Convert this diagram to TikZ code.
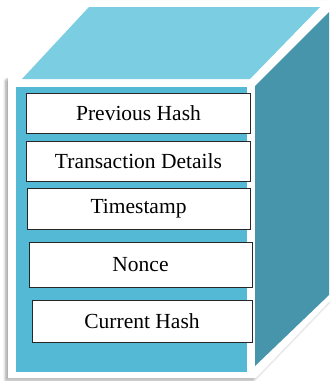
\documentclass[tikz,border=0pt]{standalone}
\usepackage{fontspec}
\setmainfont{Liberation Serif}
\usetikzlibrary{shadows.blur}
\definecolor{topface}{RGB}{123,205,225}
\definecolor{frontface}{RGB}{84,185,213}
\definecolor{sideface}{RGB}{70,149,170}
\tikzset{
  field/.style={draw=black!85, line width=1pt, fill=white, inner sep=0pt,
    font=\fontsize{21.5}{24}\selectfont},
}
\begin{document}
\begin{tikzpicture}[x=1pt,y=-1pt]
\useasboundingbox (0,0) rectangle (331,381);
% white cube silhouette with a soft shadow
\fill[white, blur shadow={shadow xshift=-2.5pt, shadow yshift=-2pt,
      shadow blur radius=2.5pt, shadow blur steps=6, shadow opacity=35}]
  (8,378) -- (8,79) -- (82,1) -- (331,1) -- (331,300) -- (256,378) -- cycle;
% keep the slanted top-left edge free of shadow
\fill[white] (-1,-1) -- (-1,75) -- (10,79) -- (84,1) -- (84,-1) -- cycle;
% the three faces
\fill[topface] (22,79) -- (89,7) -- (320,7) -- (250,79) -- cycle;
\fill[sideface] (255,86) -- (329,12) -- (329,295) -- (255,366) -- cycle;
\fill[frontface] (16,87) rectangle (247,372);
% block fields
\node[field, minimum width=224pt, minimum height=40pt] (prev) at (138.5,113) {Previous Hash};
\node[field, minimum width=224pt, minimum height=40pt] (tx)   at (138.5,161) {Transaction Details};
\node[field, minimum width=223pt, minimum height=41pt] (ts)   at (138.5,208.5) {Timestamp};
\node[field, minimum width=223pt, minimum height=45pt] (nonce) at (140.5,264.5) {Nonce};
\node[field, minimum width=220pt, minimum height=42pt] (cur)  at (142,321) {Current Hash};
\end{tikzpicture}
\end{document}
